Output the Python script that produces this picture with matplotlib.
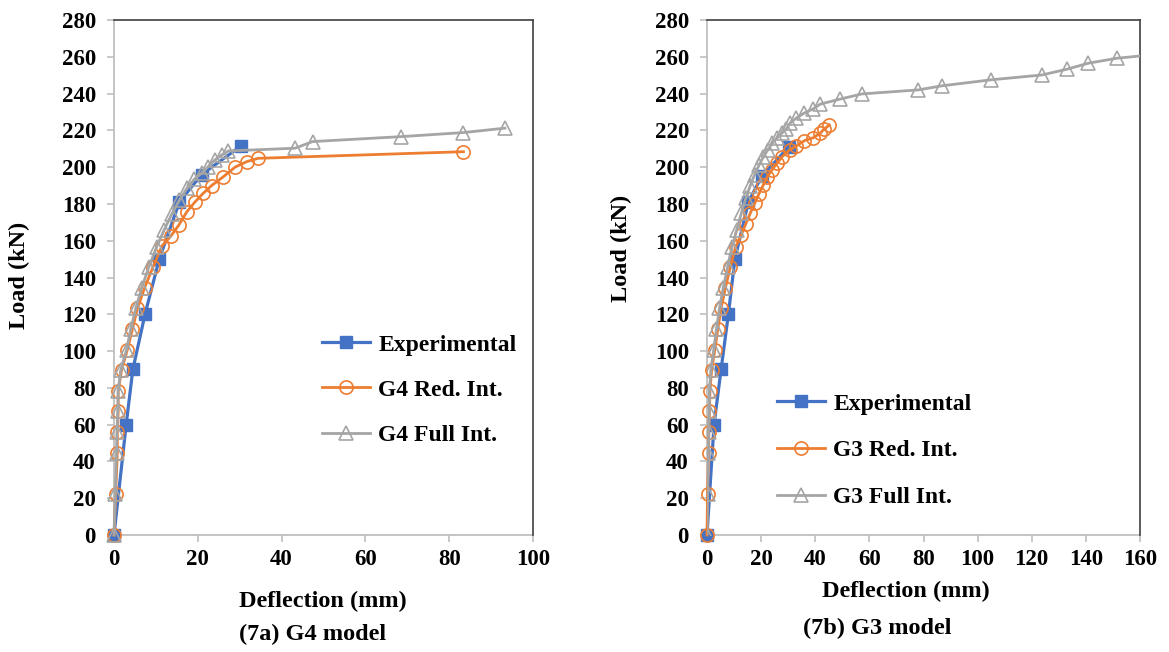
import matplotlib
matplotlib.use("Agg")
import matplotlib.pyplot as plt
from matplotlib.ticker import MultipleLocator

plt.rcParams['font.family'] = ['Liberation Serif', 'DejaVu Serif']
plt.rcParams['font.weight'] = 'bold'

# ---------------- data: (7a) G4 model ----------------
g4_exp_x = [0, 2.9, 4.5, 7.4, 10.8, 15.6, 20.9, 30.3]
g4_exp_y = [0, 60, 90, 120, 150, 181, 196, 211.5]

g4_red_x = [0, 0.4, 0.8, 0.8, 1.0, 1.0, 1.8, 3.2, 4.4, 5.6, 7.3, 9.3, 11.4, 13.6, 15.5, 17.4, 19.3, 21.3, 23.3, 26.1, 28.9, 31.7, 34.4, 83.4]
g4_red_y = [0, 22.4, 44.8, 56, 67.2, 78.4, 89.6, 100.8, 112, 123.2, 134.4, 145.6, 157, 162.6, 168.6, 175.8, 181, 185.8, 190, 194.8, 200, 203, 204.8, 208.4]

g4_full_x = [0, 0.3, 0.6, 0.7, 0.9, 1.0, 1.6, 3.0, 4.0, 5.2, 6.6, 8.3, 10.2, 12.0, 13.8, 15.6, 17.4, 19.2, 20.9, 22.5, 24.1, 25.7, 27.3, 43.2, 47.4, 68.6, 83.4, 93.3]
g4_full_y = [0, 22.4, 44.8, 56, 67.2, 78.4, 89.6, 100.8, 112, 123.2, 134.4, 145.6, 156.8, 166, 174.5, 182, 188.5, 193.5, 196.7, 200.3, 204, 206.6, 208.8, 210.3, 213.9, 216.6, 218.8, 221.2]

# ---------------- data: (7b) G3 model ----------------
g3_exp_x = [0, 2.6, 5.2, 7.9, 10.3, 15.3, 20.2, 30.2]
g3_exp_y = [0, 60, 90, 120, 150, 181, 195, 211]

g3_red_x = [0, 0.2, 0.6, 0.7, 0.9, 1.1, 1.7, 2.9, 4.0, 5.2, 6.8, 8.6, 10.6, 12.6, 14.3, 16.0, 17.7, 19.2, 20.8, 22.3, 24.0, 25.8, 27.8, 30.5, 33.0, 36.0, 39.3, 41.8, 43.2, 45.2]
g3_red_y = [0, 22.4, 44.8, 56, 67.2, 78.4, 89.6, 100.8, 112, 123.2, 134.4, 145.6, 156.8, 163, 169, 175, 180.5, 185.5, 190.3, 194.8, 198.5, 202, 205.7, 209.4, 211.5, 214.4, 216, 218.4, 220.6, 222.9]

g3_full_x = [0, 0.2, 0.5, 0.6, 0.8, 0.9, 1.4, 2.5, 3.5, 4.6, 6.0, 7.6, 9.3, 11.0, 12.7, 14.3, 16.0, 17.6, 19.2, 20.8, 22.5, 24.2, 26.0, 27.7, 29.2, 30.7, 32.9, 35.8, 39.0, 41.9, 49.2, 57.2, 78.1, 86.7, 105.1, 123.7, 132.9, 140.9, 151.4, 166.0]
g3_full_y = [0, 22.4, 44.8, 56, 67.2, 78.4, 89.6, 100.8, 112, 123.2, 134.4, 145.6, 156.8, 166, 175, 183, 190, 196, 201, 205.5, 209.5, 213, 216, 218.5, 220.6, 223.9, 226.6, 229.3, 231.5, 234.3, 237, 239.8, 242, 244.2, 247.5, 250.1, 253.2, 256.5, 259.2, 261.3]

labels_a = ["Experimental", "G4 Red. Int.", "G4 Full Int."]
labels_b = ["Experimental", "G3 Red. Int.", "G3 Full Int."]

BLUE = "#4472C4"
ORANGE = "#ED7D31"
GRAY = "#A5A5A5"
AXGRAY = "#BFBFBF"

W, H = 1169, 652
fig = plt.figure(figsize=(W / 100, H / 100), dpi=100)

def fx(px):
    return px / W

def fy(py):
    return 1 - py / H

ax1 = fig.add_axes([fx(114), fy(535), fx(533) - fx(114), fy(20) - fy(535)])
ax2 = fig.add_axes([fx(707), fy(535), fx(1140) - fx(707), fy(20) - fy(535)])

def draw(ax, ex, ey, rx, ry, fxs, fys, labels, xmax, xstep, clip_full):
    ax.plot(ex, ey, color=BLUE, lw=2.3, marker='s', ms=8.5, mfc=BLUE, mec=BLUE,
            label=labels[0], zorder=3, clip_on=False)
    ax.plot(rx, ry, color=ORANGE, lw=2.0, marker='o', ms=9.5, mfc='none', mec=ORANGE,
            mew=1.2, label=labels[1], zorder=4, clip_on=False)
    ax.plot(fxs, fys, color=GRAY, lw=2.0, marker='^', ms=9.5, mfc='none', mec=GRAY,
            mew=1.2, label=labels[2], zorder=5, clip_on=clip_full)
    ax.set_xlim(0, xmax)
    ax.set_ylim(0, 280)
    ax.xaxis.set_major_locator(MultipleLocator(xstep))
    ax.yaxis.set_major_locator(MultipleLocator(20))
    for s in ['left', 'bottom']:
        ax.spines[s].set_color(AXGRAY)
        ax.spines[s].set_linewidth(1.3)
        ax.spines[s].set_zorder(1)
    for s in ['top', 'right']:
        ax.spines[s].set_color('#404040')
        ax.spines[s].set_linewidth(1.2)
    ax.tick_params(axis='both', direction='out', length=5, width=1.2, color=AXGRAY,
                   labelsize=16.5)
    ax.tick_params(axis='y', pad=8)
    ax.tick_params(axis='x', pad=5)
    for lab in ax.get_xticklabels() + ax.get_yticklabels():
        lab.set_fontweight('bold')

draw(ax1, g4_exp_x, g4_exp_y, g4_red_x, g4_red_y, g4_full_x, g4_full_y, labels_a, 100, 20, False)
draw(ax2, g3_exp_x, g3_exp_y, g3_red_x, g3_red_y, g3_full_x, g3_full_y, labels_b, 160, 20, True)

leg_kw = dict(loc='upper left', bbox_transform=fig.transFigure, frameon=False,
              borderpad=0, borderaxespad=0, handlelength=2.05, handletextpad=0.33,
              labelspacing=1.0, prop={'family': 'Liberation Serif', 'weight': 'bold', 'size': 17})
ax1.legend(bbox_to_anchor=(fx(322), fy(334)), **leg_kw)
leg2 = dict(leg_kw)
leg2['labelspacing'] = 1.07
ax2.legend(bbox_to_anchor=(fx(777), fy(393)), **leg2)

tkw = dict(fontsize=17.5, fontweight='bold', ha='center', va='center')
fig.text(fx(19), fy(275), "Load (kN)", rotation=90, **tkw)
fig.text(fx(323), fy(601), "Deflection (mm)", **tkw)
fig.text(fx(313), fy(634), "(7a) G4 model", **tkw)

fig.text(fx(621), fy(248), "Load (kN)", rotation=90, **tkw)
fig.text(fx(906), fy(591), "Deflection (mm)", **tkw)
fig.text(fx(877), fy(628), "(7b) G3 model", **tkw)

fig.savefig("out.png", dpi=100)
